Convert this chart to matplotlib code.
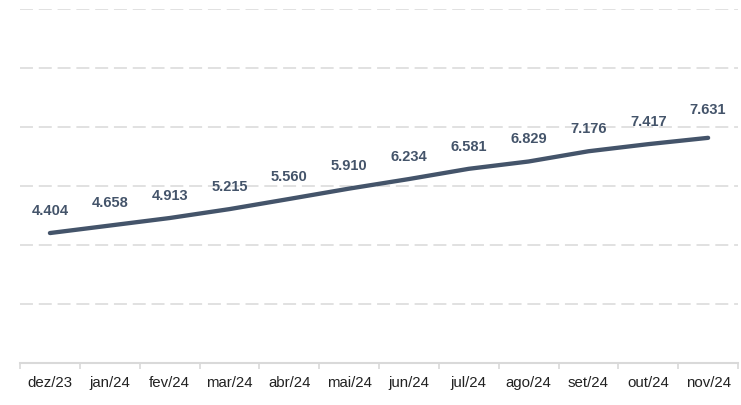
import numpy as np
import matplotlib.pyplot as plt

plt.rcParams['font.family'] = ['Liberation Sans', 'DejaVu Sans']

meses = ['dez/23', 'jan/24', 'fev/24', 'mar/24', 'abr/24', 'mai/24',
         'jun/24', 'jul/24', 'ago/24', 'set/24', 'out/24', 'nov/24']
valores = [4.404, 4.658, 4.913, 5.215, 5.560, 5.910,
           6.234, 6.581, 6.829, 7.176, 7.417, 7.631]
rotulos = ['4.404', '4.658', '4.913', '5.215', '5.560', '5.910',
           '6.234', '6.581', '6.829', '7.176', '7.417', '7.631']

cor = '#44546A'

fig = plt.figure(figsize=(7.41, 4.05), dpi=100)
ax = fig.add_axes([0.027, 0.1037, 0.969, 0.8743])

x = np.arange(len(meses))
ax.plot(x, valores, color=cor, lw=3.1, solid_capstyle='round', zorder=3)

for i, (v, r) in enumerate(zip(valores, rotulos)):
    dy = 20 if i == len(valores) - 1 else 16
    ax.annotate(r, (i, v), xytext=(0, dy), textcoords='offset points',
                ha='center', va='center', fontsize=10.5, fontweight='bold',
                color=cor)

ax.set_xlim(-0.5, len(meses) - 0.5)
ax.set_ylim(0, 12)

# grade tracejada
for g in range(2, 13, 2):
    ax.axhline(g, color='#d9d9d9', lw=1.1, linestyle=(0, (8.5, 3.8)), zorder=1)

for s in ['left', 'right', 'top']:
    ax.spines[s].set_visible(False)
ax.spines['bottom'].set_color('#d9d9d9')
ax.spines['bottom'].set_linewidth(1.5)

ax.set_yticks([])
ax.set_xticks(x)
ax.set_xticklabels(meses, fontsize=10.8, color='#222222')
ax.tick_params(axis='x', which='major', length=0, pad=9)
ax.set_xticks(np.arange(-0.5, len(meses), 1.0), minor=True)
ax.tick_params(axis='x', which='minor', length=4, width=1.2, color='#d9d9d9')

fig.savefig('out.png', dpi=100)
